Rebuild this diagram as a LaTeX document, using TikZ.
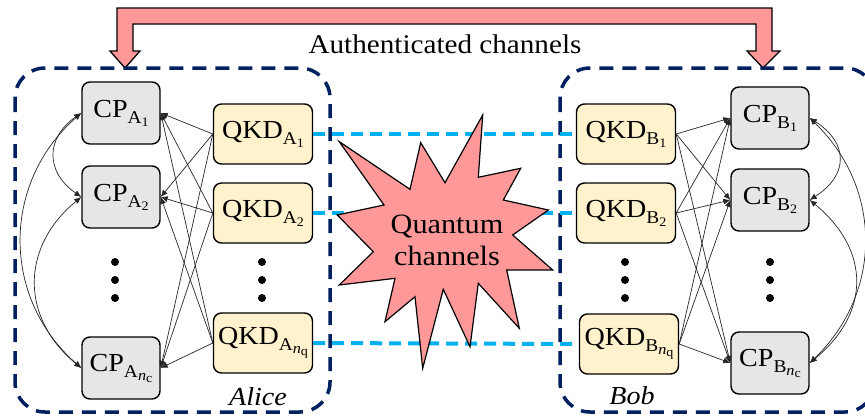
\documentclass[tikz,border=0pt]{standalone}
\usepackage{fontspec}
\setmainfont[FakeStretch=1.08]{Liberation Serif}
\usetikzlibrary{arrows.meta}
\definecolor{navy}{HTML}{002060}
\definecolor{qblue}{HTML}{00B0F0}
\definecolor{pinkf}{HTML}{FF9999}
\definecolor{cpgray}{HTML}{E6E6E6}
\definecolor{qkdyel}{HTML}{FFF2CC}
% subscript with a numeric sub-subscript
\newcommand{\sbs}[2]{\raisebox{-6pt}{\fontsize{18}{18}\selectfont #1\raisebox{-3pt}{\fontsize{13}{13}\selectfont #2}}}
% subscript with n_x sub-subscript
\newcommand{\sbn}[2]{\raisebox{-6pt}{\fontsize{18}{18}\selectfont #1\raisebox{-3pt}{\fontsize{15}{15}\selectfont\textit{n}\raisebox{-2pt}{\fontsize{13}{13}\selectfont #2}}}}
\begin{document}
\begin{tikzpicture}[x=1pt,y=-1pt,
  cpbox/.style={draw=black, line width=1.4pt, fill=cpgray, rounded corners=8pt, minimum width=78pt, minimum height=62pt, inner sep=0pt, font=\fontsize{26}{30}\selectfont},
  qkdbox/.style={draw=black, line width=1.4pt, fill=qkdyel, rounded corners=8pt, minimum width=99pt, minimum height=60pt, inner sep=0pt, font=\fontsize{26}{30}\selectfont},
  groupbox/.style={draw=navy, line width=3.5pt, dash pattern=on 14pt off 9pt, rounded corners=30pt},
  qline/.style={draw=qblue, line width=4pt, dash pattern=on 12pt off 7pt},
  link/.style={draw=black!85, line width=0.7pt, -{Latex[length=7pt,width=6pt]}},
  blink/.style={draw=black!85, line width=0.7pt, {Latex[length=7pt,width=6pt]}-{Latex[length=7pt,width=6pt]}},
  dotnode/.style={circle, fill=black, inner sep=0pt, minimum size=8pt},
  lbl/.style={font=\fontsize{26}{30}\selectfont}
]
\useasboundingbox (0,0) rectangle (865,416);

% top block arrow (authenticated channels)
\draw[fill=pinkf, line width=1.3pt, line join=miter]
  (125,68) -- (140,51) -- (133,51) -- (133,24) -- (756,24) -- (756,51) -- (747,51)
  -- (763,68) -- (780,51) -- (772,51) -- (772,8) -- (117,8) -- (117,51) -- (110,51) -- cycle;
\node[font=\fontsize{27}{30}\selectfont, anchor=base] (auth) at (445,53) {Authenticated channels};

% group boxes
\draw[groupbox] (15,68) rectangle (330,412);
\draw[groupbox] (560,68) rectangle (875,412);

% nodes Alice
\node[cpbox] (cpa1) at (121,113) {CP\sbs{A}{1}};
\node[cpbox] (cpa2) at (121,197) {CP\sbs{A}{2}};
\node[cpbox] (cpan) at (121,368) {CP\sbn{A}{c}};
\node[qkdbox] (qa1) at (263,134) {QKD\sbs{A}{1}};
\node[qkdbox] (qa2) at (263,213) {QKD\sbs{A}{2}};
\node[qkdbox] (qan) at (263,343) {QKD\sbn{A}{q}};

% nodes Bob
\node[qkdbox] (qb1) at (626,134) {QKD\sbs{B}{1}};
\node[qkdbox] (qb2) at (626,213) {QKD\sbs{B}{2}};
\node[qkdbox] (qbn) at (629,344) {QKD\sbn{B}{q}};
\node[cpbox] (cpb1) at (770,118) {CP\sbs{B}{1}};
\node[cpbox] (cpb2) at (770,200) {CP\sbs{B}{2}};
\node[cpbox] (cpbn) at (770,363) {CP\sbn{B}{c}};

% dots
\foreach \x/\n in {115/a, 262/b, 625/c, 770/d}{
  \node[dotnode] (d\n1) at (\x,262) {};
  \node[dotnode] (d\n2) at (\x,280) {};
  \node[dotnode] (d\n3) at (\x,298) {};
}

% quantum channel lines
\draw[qline] (qa1.east) -- (qb1.west);
\draw[qline] (qa2.east) -- (qb2.west);
\draw[qline] (qan.east) -- (qbn.west);

% star
\draw[fill=pinkf, line width=1.2pt, line join=miter]
  (482.7,115) -- (478.3,177.3) -- (520.7,168.3) -- (503.3,200) -- (548.3,210) -- (512.7,235)
  -- (552.7,270) -- (506.7,270) -- (519.3,328.3) -- (478.3,283.3) -- (470,346.7) -- (443.3,289.3)
  -- (422.7,368.3) -- (415,296.7) -- (385,321.7) -- (395,278.3) -- (339.3,285) -- (373.3,251.7)
  -- (337.3,215) -- (384,205) -- (339.3,141.7) -- (410,189.3) -- (420.7,142.7) -- (445,182.7) -- cycle;
\node[font=\fontsize{28}{32}\selectfont, align=center] (qc) at (447,240) {Quantum\\channels};

% Alice links
\foreach \q in {qa1,qa2,qan}{
  \foreach \c in {cpa1,cpa2,cpan}{
    \draw[link] (\q.west) -- (\c.east);
  }
}
% Bob links
\foreach \q in {qb1,qb2,qbn}{
  \foreach \c in {cpb1,cpb2,cpbn}{
    \draw[link] (\q.east) -- (\c.west);
  }
}

% curved links Alice
\draw[blink] (cpa1.west) .. controls +(-36,25) and +(-36,-25) .. (cpa2.west);
\draw[blink] (cpa2.west) .. controls +(-61,50) and +(-61,-50) .. (cpan.west);
\draw[blink] (cpa1.west) .. controls +(-80,70) and +(-80,-70) .. (cpan.west);
% curved links Bob
\draw[blink] (cpb1.east) .. controls +(39,25) and +(39,-25) .. (cpb2.east);
\draw[blink] (cpb2.east) .. controls +(61,50) and +(61,-50) .. (cpbn.east);
\draw[blink] (cpb1.east) .. controls +(73,70) and +(73,-70) .. (cpbn.east);

% labels
\node[lbl, anchor=base] (alice) at (258,405) {\textit{Alice}};
\node[lbl, anchor=base] (bob) at (632,404) {\textit{Bob}};
\end{tikzpicture}
\end{document}
